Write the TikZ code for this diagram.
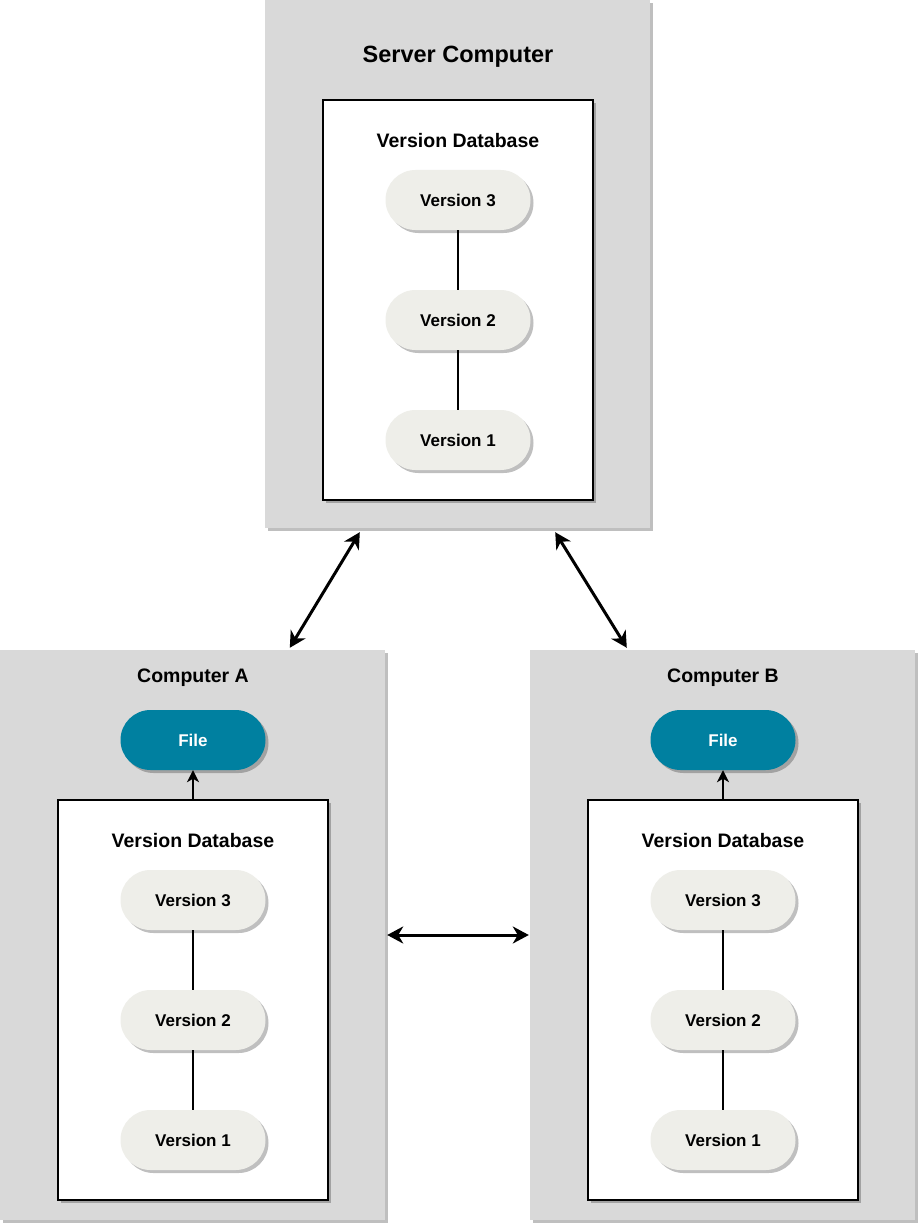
\documentclass[tikz,border=0pt]{standalone}
\usepackage{fontspec}
\setmainfont{Liberation Sans}
\usetikzlibrary{arrows.meta,shadows}
\definecolor{boxgray}{RGB}{217,217,217}
\definecolor{pillgray}{RGB}{238,238,233}
\definecolor{fileteal}{RGB}{0,128,160}
\newcommand\txt[1]{\fontsize{#1}{#1}\selectfont\bfseries}
\tikzset{
  shade3/.style={drop shadow={shadow xshift=3pt, shadow yshift=-3pt, fill=black, opacity=0.25}},
  machine/.style={rectangle, fill=boxgray, shade3, minimum width=385pt, inner sep=0},
  dbbox/.style={rectangle, draw=black, line width=1.2pt, fill=white, shade3, minimum width=270pt, minimum height=400pt},
  pill/.style={rectangle, rounded corners=30pt, fill=pillgray, shade3, minimum width=145pt, minimum height=60pt, font=\txt{17}},
  filepill/.style={pill, fill=fileteal, text=white},
  sync/.style={line width=3pt, {Stealth[length=16pt,width=17pt,inset=5pt]}-{Stealth[length=16pt,width=17pt,inset=5pt]}}
}

\begin{document}
\begin{tikzpicture}[x=1pt, y=-1pt]
  \useasboundingbox (0,0) rectangle (920,1225);

  % the three machines
  \node [machine, minimum height=528pt] (server) at (457.5,264) {};
  \node [machine, minimum height=570pt] (compA) at (192.5,935) {};
  \node [machine, minimum height=570pt] (compB) at (722.5,935) {};

  \node [font=\txt{23.5}] (servertitle) at (458,57) {Server Computer};
  \node [font=\txt{19.5}] (titleA) at (193,678) {Computer A};
  \node [font=\txt{19.5}] (titleB) at (723,678) {Computer B};

  % version databases
  \foreach \db/\cx/\cy in {s/458/100, a/193/800, b/723/800} {
    \node [dbbox] (db\db) at ({\cx},{\cy+200}) {};
    \node [font=\txt{19.5}] (dbtitle\db) at ({\cx},{\cy+41}) {Version Database};
    \foreach \v in {3,2,1}
      \node [pill] (v\db\v) at ({\cx},{\cy+100+120*(3-\v)}) {Version \v};
    \draw [line width=1.5pt] (v\db3) -- (v\db2) (v\db2) -- (v\db1);
  }

  % working files
  \node [filepill] (fileA) at (193,740) {File};
  \node [filepill] (fileB) at (723,740) {File};
  \draw [line width=2pt, -{Stealth[length=12pt,width=12pt,inset=3.5pt]}] (dba.north) -- (fileA.south);
  \draw [line width=2pt, -{Stealth[length=12pt,width=12pt,inset=3.5pt]}] (dbb.north) -- (fileB.south);

  % syncing
  \draw [sync] ([xshift=95pt,yshift=-4pt]server.south west) -- ([xshift=290pt,yshift=2pt]compA.north west);
  \draw [sync] ([xshift=-95pt,yshift=-4pt]server.south east) -- ([xshift=97pt,yshift=2pt]compB.north west);
  \draw [sync] ([xshift=2pt]compA.east) -- ([xshift=-1pt]compB.west);
\end{tikzpicture}
\end{document}
